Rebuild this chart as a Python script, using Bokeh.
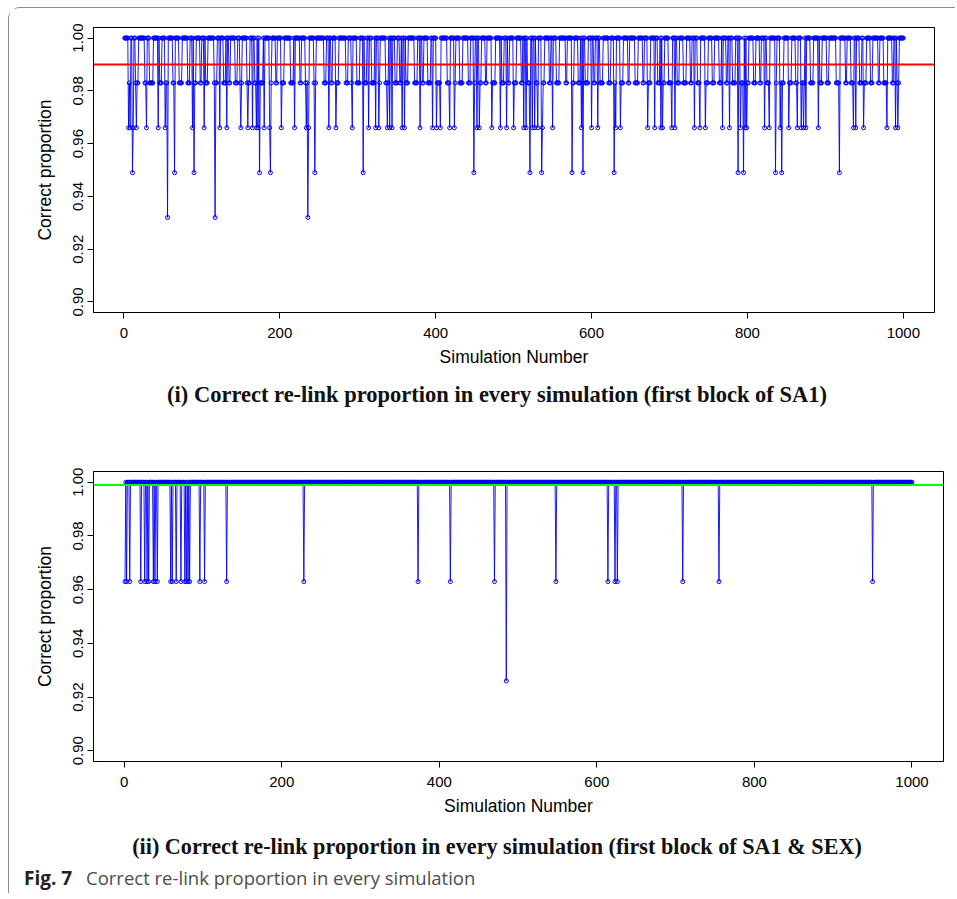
from bokeh.plotting import figure
from bokeh.models import Range1d, FixedTicker, PrintfTickFormatter, Span
from bokeh.core.properties import value
from bokeh.layouts import column
from bokeh.embed import file_html
from bokeh.resources import INLINE

# ---------------- data ----------------
n_sims = 1000
sim_numbers = list(range(1, n_sims + 1))

# panel (i): first block of SA1
top_levels = [1.000, 0.983, 0.966, 0.949, 0.932]
top_mean_line = 0.99
# simulations at 0.983 (one character per simulation, '1' = 0.983)
top_983_rows = [
    "0000011100 0000111100 0000001100 0011111000 0000011100",
    "0001110000 0011000000 1111000000 0111000001 1100000110",
    "0000111000 0000011110 0000000111 0000110000 0011100011",
    "1000000111 1000000110 0000111100 0000001110 0000110000",
    "0011100000 0001111000 0000011000 0011110000 0001110000",
    "0000001110 0000011000 0111100000 0000111000 0110000011",
    "1100000011 1000000111 1000001100 0000011110 0000000111",
    "0001100000 0111000000 0011110000 0011000001 1110000000",
    "0111100000 0000111000 0001100000 1111000000 0111000011",
    "0000011100 0001100000 0011110000 0000111000 0011000001",
    "1110000001 1000000111 1000000011 0000011110 0000011000",
    "0000111100 0000001100 0000111000 0011100000 0111100000",
    "0011000000 1111000000 0111000001 1000000111 0000001100",
    "0000011110 0000011000 0011100000 0000111000 0110000011",
    "1100000001 1100000111 1000001100 0000011110 0000001110",
    "0000111000 0001110000 0011000000 1111000000 0111000011",
    "1000000111 0000011000 0000111100 0000011000 0011110000",
    "0001110000 0110000001 1110000000 1111000000 0011100000",
    "0111000000 0001111000 0000011000 0011100000 0001110001",
    "1100000111 0000000110 0000111100 0000011000 0111000000",
]
top_966_sims = [6, 8, 12, 16, 29, 44, 53, 88, 103, 123, 132, 150, 159, 165, 170,
                172, 180, 187, 202, 219, 234, 237, 263, 272, 293, 314, 323, 327,
                338, 341, 344, 357, 360, 380, 396, 401, 406, 418, 424, 453, 456,
                472, 483, 491, 500, 513, 516, 524, 527, 531, 537, 550, 587, 600,
                608, 631, 637, 672, 681, 689, 691, 703, 707, 732, 739, 746, 768,
                777, 791, 797, 799, 822, 828, 842, 853, 864, 869, 872, 875, 891,
                936, 939, 949, 979, 990, 993]
top_949_sims = [11, 65, 90, 174, 188, 245, 307, 449, 521, 536, 575, 589, 629,
                788, 795, 836, 844, 918]
top_932_sims = [56, 117, 236]

# panel (ii): first block of SA1 & SEX
bottom_levels = [1.000, 0.963, 0.926]
bottom_mean_line = 0.999
bottom_963_sims = [1, 3, 7, 21, 26, 29, 31, 37, 39, 42, 59, 61, 66, 72, 77, 79,
                   81, 83, 96, 102, 130, 228, 373, 414, 470, 548, 614, 623, 626,
                   709, 755, 950]
bottom_926_sims = [485]

x_ticks = [0, 200, 400, 600, 800, 1000]
y_ticks = [0.90, 0.92, 0.94, 0.96, 0.98, 1.00]

title_i = "(i) Correct re-link proportion in every simulation (first block of SA1)"
title_ii = "(ii) Correct re-link proportion in every simulation (first block of SA1 & SEX)"
fig_label = "Fig. 7"
fig_caption = "Correct re-link proportion in every simulation"

# ---------------- build series ----------------
pattern = "".join(top_983_rows).replace(" ", "")
pattern = (pattern + "0" * n_sims)[:n_sims]
top_vals = [top_levels[1] if c == "1" else top_levels[0] for c in pattern]
for lvl, sims in ((2, top_966_sims), (3, top_949_sims), (4, top_932_sims)):
    for s in sims:
        top_vals[s - 1] = top_levels[lvl]

bottom_vals = [bottom_levels[0]] * n_sims
for s in bottom_963_sims:
    bottom_vals[s - 1] = bottom_levels[1]
for s in bottom_926_sims:
    bottom_vals[s - 1] = bottom_levels[2]

BLUE = "#0000ff"
LAYOUT_W = 946


def make_panel(values, hline, hcolor, fw, fh, left, top, bottom):
    p = figure(frame_width=fw, frame_height=fh,
               x_range=Range1d(-39, 1040), y_range=Range1d(0.896, 1.004),
               output_backend="svg", toolbar_location=None,
               min_border_left=left, min_border_right=LAYOUT_W - left - fw,
               min_border_top=top, min_border_bottom=bottom,
               background_fill_color="white", border_fill_color="white")
    p.xgrid.visible = False
    p.ygrid.visible = False
    p.outline_line_color = "black"
    p.outline_line_width = 1
    p.outline_line_alpha = 1

    p.line(sim_numbers, values, line_color=BLUE, line_width=0.9)
    p.scatter(sim_numbers, values, marker="circle", size=4, fill_color=None,
              line_color=BLUE, line_width=1)
    p.add_layout(Span(location=hline, dimension="width", line_color=hcolor,
                      line_width=2))

    for ax in (p.xaxis[0], p.yaxis[0]):
        ax.axis_line_color = "black"
        ax.major_tick_line_color = "black"
        ax.major_tick_out = 6
        ax.major_tick_in = 0
        ax.minor_tick_line_color = None
        ax.major_label_text_font = "Liberation Sans"
        ax.major_label_text_font_size = "15px"
        ax.major_label_text_color = "black"
        ax.axis_label_text_font = "Liberation Sans"
        ax.axis_label_text_font_size = "17.5px"
        ax.axis_label_text_font_style = "normal"
        ax.axis_label_text_color = "black"

    xa = p.xaxis[0]
    xa.ticker = FixedTicker(ticks=x_ticks)
    xa.axis_label = "Simulation Number"
    xa.major_label_standoff = 9
    xa.axis_label_standoff = 6

    ya = p.yaxis[0]
    ya.ticker = FixedTicker(ticks=y_ticks)
    ya.formatter = PrintfTickFormatter(format="%.2f")
    ya.major_label_orientation = "vertical"
    ya.axis_label = "Correct proportion"
    ya.major_label_standoff = 4
    ya.axis_label_standoff = 16
    return p


def text_strip(height, overlap):
    """Transparent figure in pixel units used for titles and the caption."""
    t = figure(width=LAYOUT_W, height=height,
               x_range=Range1d(0, LAYOUT_W), y_range=Range1d(0, height),
               x_axis_type=None, y_axis_type=None,
               output_backend="svg", toolbar_location=None,
               min_border=0, margin=(-overlap, 0, 0, 0))
    try:
        t.frame_align = False
    except (AttributeError, ValueError):
        pass
    t.outline_line_color = None
    t.background_fill_alpha = 0
    t.border_fill_alpha = 0
    return t


# content origin on the page is (9.5, 8.5)
p1 = make_panel(top_vals, top_mean_line, "#ff0000", 841, 285, 84, 19, 80)
t1 = text_strip(40, 20)
t1.text(x=[487.5], y=[18.5], text=[title_i], text_font=value("Liberation Serif"),
        text_font_style="bold", text_font_size="22.5px", text_color="#111111",
        text_align="center", text_baseline="middle")

p2 = make_panel(bottom_vals, bottom_mean_line, "#00ff00", 850, 290, 82, 59, 80)
t2 = text_strip(72, 20)
t2.text(x=[487.5], y=[47.5], text=[title_ii], text_font=value("Liberation Serif"),
        text_font_style="bold", text_font_size="22.2px", text_color="#111111",
        text_align="center", text_baseline="middle")
t2.text(x=[14.5], y=[16], text=[fig_label], text_font=value("Open Sans"),
        text_font_style="bold", text_font_size="19px", text_color="#222222",
        text_align="left", text_baseline="middle")
t2.text(x=[76.5], y=[16], text=[fig_caption], text_font=value("Open Sans"),
        text_font_style="normal", text_font_size="18.5px", text_color="#4d4d4d",
        text_align="left", text_baseline="middle")

layout = column(p1, t1, p2, t2,
                styles={"margin-left": "8px", "margin-top": "7px",
                        "border-top": "1.5px solid #8a8a8a",
                        "border-left": "1.5px solid #8a8a8a",
                        "border-top-left-radius": "12px",
                        "background-color": "white"})

open("out.html", "w").write(file_html(layout, INLINE))
